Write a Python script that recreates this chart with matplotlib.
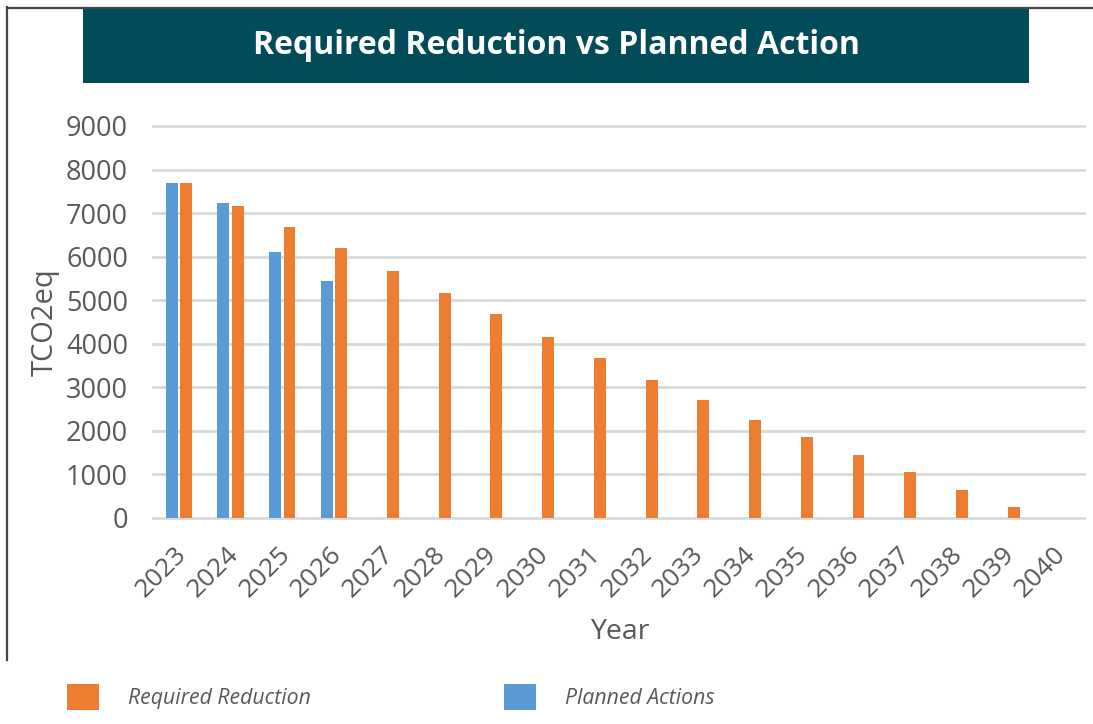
# Required reduction vs planned action bar chart
import numpy as np
import matplotlib.pyplot as plt
from matplotlib.patches import Rectangle
from matplotlib.lines import Line2D
import matplotlib.transforms as mtransforms

# data
years = [str(y) for y in range(2023, 2041)]
required = [7700, 7170, 6680, 6190, 5670, 5170, 4680, 4150, 3670, 3170,
            2710, 2250, 1870, 1450, 1060, 640, 250, 0]
planned = [7700, 7240, 6110, 5450, 0, 0, 0, 0, 0, 0,
           0, 0, 0, 0, 0, 0, 0, 0]
yticks = list(range(0, 10000, 1000))

orange = '#ED7D31'
blue = '#5B9BD5'
grey = '#595959'
teal = '#024B58'

W, H = 1093, 724
fig = plt.figure(figsize=(W / 100, H / 100), dpi=100)

# frame lines and title banner (figure pixel coords -> fractions)
fig.add_artist(Line2D([7 / W, 7 / W], [1 - 7 / H, 1 - 660 / H], color='#444444', lw=1.6))
fig.add_artist(Line2D([7 / W, 1], [1 - 7.5 / H, 1 - 7.5 / H], color='#444444', lw=1.6))
fig.add_artist(Rectangle((83 / W, 1 - 83 / H), (1029 - 83) / W, 76 / H,
                         facecolor=teal, edgecolor='none', transform=fig.transFigure))
fig.text(556 / W, 1 - 46 / H, 'Required Reduction vs Planned Action', color='white',
         fontsize=23, fontweight='bold', family='Open Sans', ha='center', va='center')

ax = fig.add_axes([153 / W, 1 - 518 / H, (1084 - 153) / W, (518 - 126) / H])
x = np.arange(len(years))
w = 0.23
ax.bar(x - 0.14, planned, width=w, color=blue, label='Planned Actions', zorder=3)
ax.bar(x + 0.14, required, width=w, color=orange, label='Required Reduction', zorder=3)

ax.set_xlim(-0.5, len(years) - 0.5)
ax.set_ylim(0, 9000)
for t in yticks:
    ax.axhline(t, color='#D9D9D9', lw=2, zorder=1, clip_on=False)
for s in ax.spines.values():
    s.set_visible(False)

ax.set_yticks(yticks)
ax.set_yticklabels([str(v) for v in yticks], fontsize=19.5, color=grey, family='Open Sans')
ax.tick_params(axis='y', length=0, pad=18)
ax.set_xticks(x)
ax.set_xticklabels(years, rotation=45, ha='right', fontsize=19, color=grey, family='Open Sans')
ax.tick_params(axis='x', length=0, pad=17)
offset = mtransforms.ScaledTranslation(0.13, 0, fig.dpi_scale_trans)
for lab in ax.get_xticklabels():
    lab.set_transform(lab.get_transform() + offset)

fig.text(45 / W, 1 - 322 / H, 'TCO2eq', rotation=90, fontsize=21, color=grey,
         family='Open Sans', ha='center', va='center')
fig.text(620 / W, 1 - 632 / H, 'Year', fontsize=20.5, color=grey, family='Open Sans',
         ha='center', va='center')

# legend along the bottom
h, l = ax.get_legend_handles_labels()
leg = fig.legend([h[1], h[0]], [l[1], l[0]], loc='center left',
                 bbox_to_anchor=(67 / W, 1 - 697 / H), ncol=2, frameon=False,
                 borderpad=0, borderaxespad=0, handlelength=1.5, handleheight=1.5,
                 handletextpad=1.36, columnspacing=9.1, labelcolor=grey,
                 prop={'family': 'Open Sans', 'style': 'italic', 'size': 15.3})

fig.savefig('out.png', dpi=100)
